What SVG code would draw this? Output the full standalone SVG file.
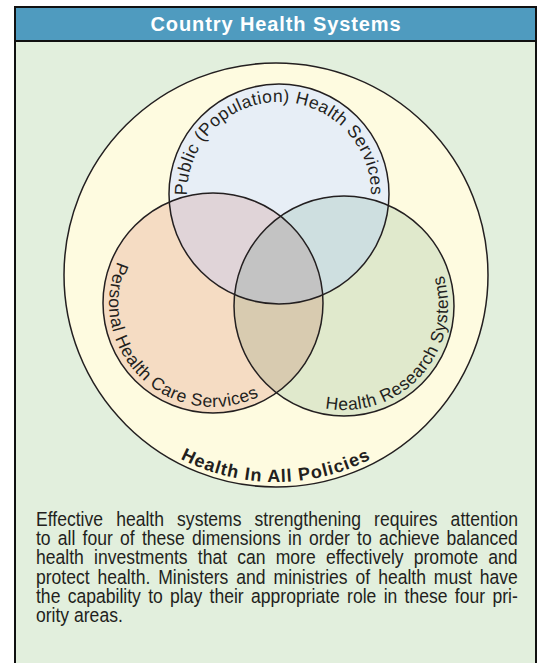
<svg xmlns="http://www.w3.org/2000/svg" width="540" height="663" viewBox="0 0 540 663">
  <style>
    .frame{stroke:#111;stroke-width:2}
    .ring{fill:none;stroke:#231f20;stroke-width:1.5}
    .arc{font-family:"Liberation Sans",Arial,sans-serif;font-size:17.5px;letter-spacing:0.5px;fill:#231f20}
    .bold{font-weight:bold;font-size:18px;letter-spacing:1px}
    .title{font-family:"Liberation Sans",Arial,sans-serif;font-size:20px;font-weight:bold;letter-spacing:0.9px;fill:#fff}
    .body{font-family:"Liberation Sans",Arial,sans-serif;font-size:19.5px;fill:#231f20}
  </style>
  <defs>
    <clipPath id="clipTop"><circle cx="279" cy="194" r="110"/></clipPath>
    <clipPath id="clipLeft"><circle cx="213" cy="303" r="110"/></clipPath>
    <!-- baseline arcs for the curved labels, each centred on its label's mid-angle -->
    <path id="pathTop" d="M192.55,225.46 A92,92 0 1 1 365.45,225.46"/>
    <path id="pathLeft" d="M166.6,209.9 A104,104 0 1 0 308.4,344.5"/>
    <path id="pathRight" d="M252.6,355.6 A104,104 0 1 0 382.1,209.2"/>
    <path id="pathOuter" d="M96.7,378.5 A207,207 0 0 0 455.3,378.5"/>
  </defs>

  <!-- panel with title bar -->
  <g id="panel">
    <rect class="frame" x="15" y="7" width="521" height="680" fill="#e2efdd"/>
    <rect class="frame" x="15" y="7" width="521" height="34" fill="#4f9bbf"/>
    <text class="title" x="276" y="31" text-anchor="middle">Country Health Systems</text>
  </g>

  <!-- outer ring: Health In All Policies -->
  <g id="outer">
    <circle cx="276" cy="275" r="212" fill="#fefbe0" stroke="#231f20" stroke-width="1.5"/>
    <text class="arc bold"><textPath href="#pathOuter" startOffset="50%" text-anchor="middle">Health In All Policies</textPath></text>
  </g>

  <!-- three overlapping service circles -->
  <g id="public">
    <circle cx="279" cy="194" r="110" fill="#e7eef6"/>
  </g>
  <g id="personal">
    <circle cx="213" cy="303" r="110" fill="#f5dcc3"/>
  </g>
  <g id="research">
    <circle cx="344" cy="306" r="110" fill="#e0e9cc"/>
  </g>

  <!-- overlap tints -->
  <g id="overlaps">
    <circle cx="213" cy="303" r="110" fill="#e0d4d8" clip-path="url(#clipTop)"/>
    <circle cx="344" cy="306" r="110" fill="#cedfe0" clip-path="url(#clipTop)"/>
    <circle cx="344" cy="306" r="110" fill="#d8cbb0" clip-path="url(#clipLeft)"/>
    <g clip-path="url(#clipTop)">
      <circle cx="344" cy="306" r="110" fill="#c3c3c3" clip-path="url(#clipLeft)"/>
    </g>
  </g>

  <!-- outlines and curved labels -->
  <g id="labels">
    <circle class="ring" cx="279" cy="194" r="110"/>
    <circle class="ring" cx="213" cy="303" r="110"/>
    <circle class="ring" cx="344" cy="306" r="110"/>
    <text class="arc"><textPath href="#pathTop" startOffset="50%" text-anchor="middle">Public (Population) Health Services</textPath></text>
    <text class="arc"><textPath href="#pathLeft" startOffset="50%" text-anchor="middle">Personal Health Care Services</textPath></text>
    <text class="arc"><textPath href="#pathRight" startOffset="50%" text-anchor="middle">Health Research Systems</textPath></text>
  </g>

  <g id="connectors"/>

  <!-- justified caption, set in a narrowed face -->
  <g id="caption" class="body" transform="translate(36,0) scale(0.9,1)">
    <text x="0" y="526" word-spacing="9.2">Effective health systems strengthening requires attention</text>
    <text x="0" y="545.2" word-spacing="2.6">to all four of these dimensions in order to achieve balanced</text>
    <text x="0" y="564.4" word-spacing="5.9">health investments that can more effectively promote and</text>
    <text x="0" y="583.6" word-spacing="3.4">protect health. Ministers and ministries of health must have</text>
    <text x="0" y="602.8" word-spacing="2.7">the capability to play their appropriate role in these four pri-</text>
    <text x="0" y="622">ority areas.</text>
  </g>
</svg>
